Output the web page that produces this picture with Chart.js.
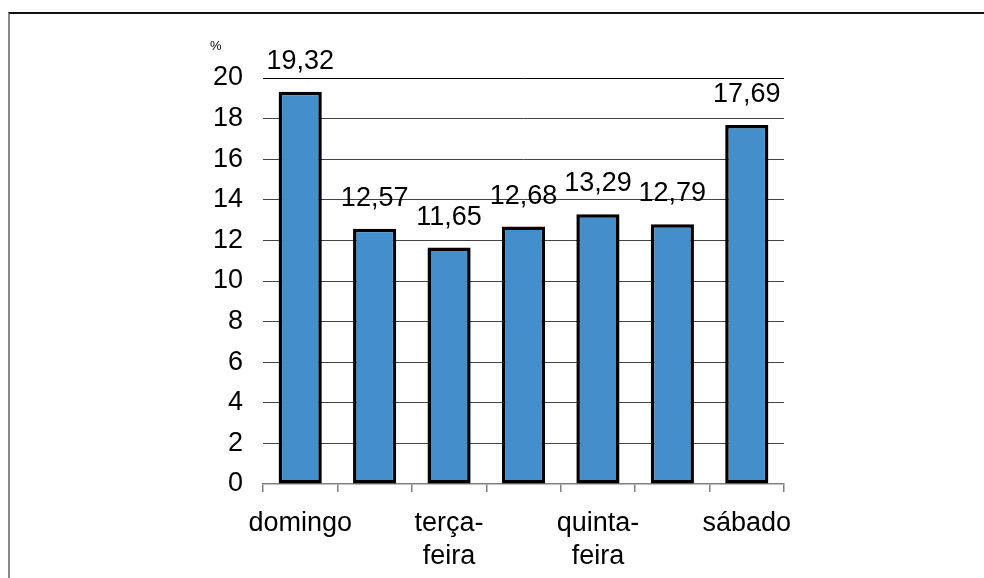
<!DOCTYPE html>
<html>
<head>
<meta charset="utf-8">
<script src="https://cdn.jsdelivr.net/npm/chart.js@4"></script>
<style>
  html, body { margin: 0; padding: 0; background: #fff; }
  #wrap { position: relative; width: 984px; height: 578px; overflow: hidden; }
  #frame {
    position: absolute; left: 8px; top: 12px; width: 1000px; height: 600px;
    border-top: 2px solid #111; border-left: 2px solid #888;
  }
  canvas { position: absolute; left: 0; top: 0; }
</style>
</head>
<body>
<div id="wrap">
  <div id="frame"></div>
  <canvas id="chart" width="984" height="578"></canvas>
</div>
<script>
const DAYS = [
  'domingo',
  'segunda-feira',
  ['terça-', 'feira'],
  'quarta-feira',
  ['quinta-', 'feira'],
  'sexta-feira',
  'sábado',
];
const VALUES = [19.32, 12.57, 11.65, 12.68, 13.29, 12.79, 17.69];
const Y_TICKS = [0, 2, 4, 6, 8, 10, 12, 14, 16, 18, 20];
const UNIT = '%';

const FONT = 'Liberation Sans, Arial, sans-serif';

const valueLabels = {
  id: 'valueLabels',
  afterDatasetsDraw(chart) {
    const ctx = chart.ctx;
    const meta = chart.getDatasetMeta(0);
    ctx.save();
    ctx.font = '27px ' + FONT;
    ctx.fillStyle = '#000';
    ctx.textAlign = 'center';
    ctx.textBaseline = 'alphabetic';
    meta.data.forEach((bar, i) => {
      const txt = VALUES[i].toFixed(2).replace('.', ',');
      ctx.fillText(txt, bar.x, bar.y - 23);
    });
    // unit label above the y axis
    ctx.font = '13px ' + FONT;
    ctx.textAlign = 'left';
    ctx.fillText(UNIT, 210, 50);
    ctx.restore();
  },
};

new Chart(document.getElementById('chart').getContext('2d'), {
  type: 'bar',
  data: {
    labels: DAYS,
    datasets: [
      {
        data: VALUES,
        backgroundColor: '#428fcc',
        borderColor: '#000',
        borderWidth: 3.5,
        borderSkipped: false,
        categoryPercentage: 1,
        barPercentage: 0.58,
      },
    ],
  },
  options: {
    responsive: false,
    animation: false,
    layout: { padding: { left: 208, right: 200, top: 78, bottom: 0 } },
    plugins: { legend: { display: false }, tooltip: { enabled: false } },
    scales: {
      x: {
        afterFit(scale) { scale.height = 94; },
        grid: {
          offset: true,
          drawOnChartArea: false,
          tickLength: 8,
          color: '#808080',
          lineWidth: 1.5,
        },
        border: { color: '#808080', width: 1.5 },
        ticks: {
          autoSkip: false,
          maxRotation: 0,
          padding: 15,
          color: '#000',
          font: { family: FONT, size: 27, lineHeight: 1.22 },
          callback(val, i) { return i % 2 === 0 ? DAYS[i] : ''; },
        },
      },
      y: {
        min: 0,
        max: 20,
        afterFit(scale) { scale.width = 55; },
        afterBuildTicks(scale) { scale.ticks = Y_TICKS.map(v => ({ value: v })); },
        border: { display: false },
        grid: {
          drawTicks: false,
          color: c => (c.tick.value === 20 ? '#000' : c.tick.value === 0 ? 'rgba(0,0,0,0)' : '#444'),
          lineWidth: 1,
        },
        ticks: {
          padding: 20,
          color: '#000',
          font: { family: FONT, size: 27 },
        },
      },
    },
  },
  plugins: [valueLabels],
});
</script>
</body>
</html>
